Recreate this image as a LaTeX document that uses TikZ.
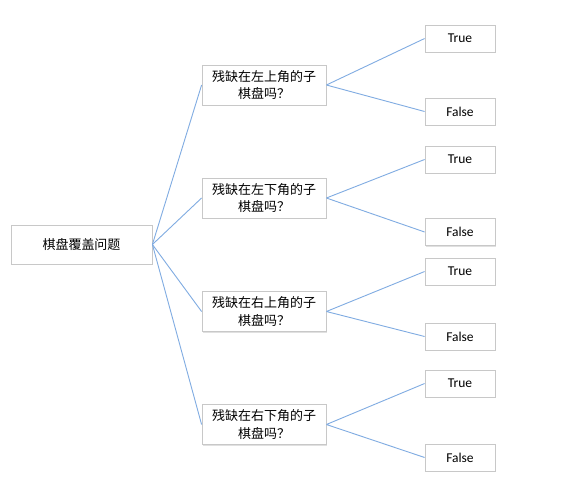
\documentclass[tikz,border=0pt]{standalone}
\usepackage{fontspec}
\setmainfont{Carlito}
\newfontfamily\cjk{Noto Sans CJK SC}
\usetikzlibrary{shadows}
\definecolor{linkblue}{RGB}{128,172,226}
\definecolor{boxgray}{RGB}{200,200,200}
\tikzset{
	box/.style={draw=boxgray,fill=white,line width=0.8pt,inner sep=0pt,align=center,
		drop shadow={shadow xshift=1pt,shadow yshift=-1pt,fill=black!12,opacity=1}},
	qbox/.style={box,minimum width=124pt,minimum height=40pt,font=\cjk\fontsize{13}{17.5}\selectfont},
	abox/.style={box,minimum width=70pt,minimum height=27pt,font=\fontsize{13.5}{16}\selectfont},
	link/.style={draw=linkblue,line width=0.9pt}
}
\begin{document}
\begin{tikzpicture}[x=1pt,y=-1pt]
	\useasboundingbox[fill=white] (0,0) rectangle (574,491);
	% root
	\node[qbox,minimum width=141pt,minimum height=39pt] (root) at (81.5,244.5) {棋盘覆盖问题};
	% questions
	\node[qbox] (q1) at (264,85) {残缺在左上角的子\\棋盘吗？};
	\node[qbox] (q2) at (264,198) {残缺在左下角的子\\棋盘吗？};
	\node[qbox] (q3) at (264,311.5) {残缺在右上角的子\\棋盘吗？};
	\node[qbox] (q4) at (264,424.5) {残缺在右下角的子\\棋盘吗？};
	% answers
	\node[abox] (t1) at (460,38.5) {True};
	\node[abox] (f1) at (460,111.5) {False};
	\node[abox] (t2) at (460,159.5) {True};
	\node[abox] (f2) at (460,232) {False};
	\node[abox] (t3) at (460,271.5) {True};
	\node[abox] (f3) at (460,336.5) {False};
	\node[abox] (t4) at (460,383.5) {True};
	\node[abox] (f4) at (460,457.5) {False};
	% links
	\foreach \i in {1,2,3,4}{
		\draw[link] (root.east)--(q\i.west);
		\draw[link] (q\i.east)--(t\i.west) (q\i.east)--(f\i.west);
	}
\end{tikzpicture}
\end{document}
